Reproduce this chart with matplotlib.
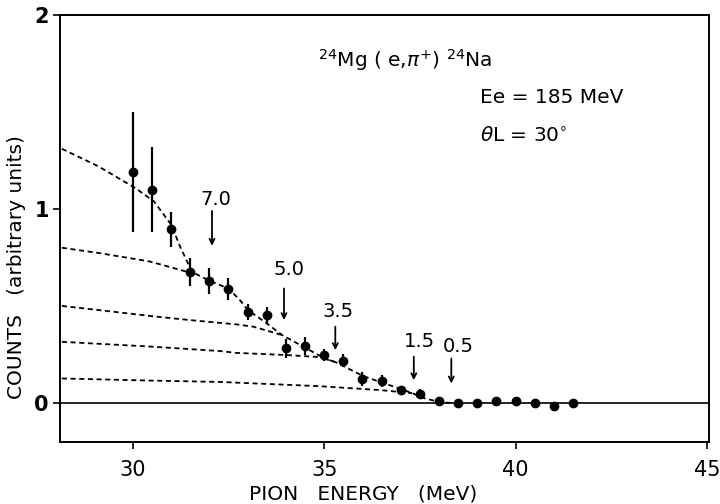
import matplotlib
matplotlib.use("Agg")
import matplotlib.pyplot as plt

# ---- data ----
pion_energy = [30.0, 30.5, 31.0, 31.5, 32.0, 32.5, 33.0, 33.5, 34.0, 34.5, 35.0, 35.5,
               36.0, 36.5, 37.0, 37.5, 38.0, 38.5, 39.0, 39.5, 40.0, 40.5, 41.0, 41.5]
counts = [1.19, 1.10, 0.895, 0.675, 0.628, 0.588, 0.470, 0.453, 0.281, 0.293, 0.246, 0.217,
          0.122, 0.114, 0.069, 0.048, 0.010, 0.002, 0.002, 0.010, 0.009, 0.002, -0.017, -0.003]
count_err = [0.31, 0.22, 0.09, 0.07, 0.065, 0.055, 0.04, 0.042, 0.05, 0.048, 0.03, 0.033,
             0.035, 0.03, 0.02, 0.025, 0.02, 0.012, 0.008, 0.01, 0.01, 0.008, 0.006, 0.025]

# envelope (sum of all levels up to 7.0 MeV)
fit_x = [28.15, 29.1, 30.05, 30.55, 31.0, 31.25, 31.55, 32.0, 32.5, 32.8, 33.0, 33.5, 33.9,
         34.5, 35.05, 35.3, 36.0, 36.5, 37.0, 37.3, 37.6, 38.0, 38.3]
fit_y = [1.31, 1.22, 1.11, 1.04, 0.92, 0.80, 0.675, 0.63, 0.59, 0.53, 0.48, 0.41, 0.35,
         0.285, 0.225, 0.21, 0.14, 0.105, 0.072, 0.05, 0.025, 0.005, 0.0]
# partial sums (end where they join the envelope)
c50_x = [28.15, 29.14, 30.45, 31.4, 31.55]
c50_y = [0.80, 0.772, 0.729, 0.677, 0.675]
c35_x = [28.15, 29.5, 30.6, 31.6, 32.7, 33.15, 33.9]
c35_y = [0.50, 0.47, 0.445, 0.425, 0.405, 0.393, 0.35]
c15_x = [28.15, 30.5, 32.3, 32.7, 34.0, 34.9, 35.3]
c15_y = [0.315, 0.29, 0.267, 0.258, 0.247, 0.236, 0.21]
c05_x = [28.15, 30.5, 32.3, 34.9, 36.47, 37.3]
c05_y = [0.126, 0.115, 0.108, 0.086, 0.066, 0.05]

arrow_labels = ["7.0", "5.0", "3.5", "1.5", "0.5"]
arrow_x = [32.07, 33.95, 35.29, 37.34, 38.32]
arrow_top = [0.99, 0.59, 0.393, 0.238, 0.229]
arrow_bottom = [0.81, 0.427, 0.272, 0.117, 0.100]
label_x = [32.17, 34.07, 35.37, 37.49, 38.49]
label_y = [1.05, 0.686, 0.47, 0.315, 0.289]

x_ticks = [30, 35, 40, 45]
y_ticks = [0, 1, 2]

plt.rcParams['font.family'] = ['DejaVu Sans']

fig = plt.figure(figsize=(7.2, 5.04), dpi=100)
ax = fig.add_axes([60 / 720, 1 - 441.7 / 504, (709 - 60) / 720, (441.7 - 15) / 504])
ax.set_xlim(28.1, 45.05)
ax.set_ylim(-0.2, 2.0)

ax.axhline(0, color='black', lw=1.2)

dash = (0, (2.8, 2.0))
for xs, ys in [(fit_x, fit_y), (c50_x, c50_y), (c35_x, c35_y), (c15_x, c15_y), (c05_x, c05_y)]:
    ax.plot(xs, ys, color='black', lw=1.3, linestyle=dash)

ax.errorbar(pion_energy, counts, yerr=count_err, fmt='o', color='black',
            markersize=6, elinewidth=1.6, capsize=0)

for lab, xa, yt, yb, lx, ly in zip(arrow_labels, arrow_x, arrow_top, arrow_bottom, label_x, label_y):
    ax.annotate('', xy=(xa, yb), xytext=(xa, yt),
                arrowprops=dict(arrowstyle='->', lw=1.3, color='black',
                                mutation_scale=9, shrinkA=0, shrinkB=0))
    ax.text(lx, ly, lab, ha='center', va='center', fontsize=14)

ax.text(34.84, 1.735, r"$^{24}$Mg ( e,$\pi^{+}$) $^{24}$Na", fontsize=14.5, ha='left', va='baseline')
ax.text(39.08, 1.547, "Ee = 185 MeV", fontsize=14.5, ha='left', va='baseline')
ax.text(39.08, 1.349, r"$\theta$L = 30$^{\circ}$", fontsize=14.5, ha='left', va='baseline')

ax.set_xticks(x_ticks)
ax.set_xticklabels([str(t) for t in x_ticks])
ax.set_yticks(y_ticks)
ax.set_yticklabels([str(t) for t in y_ticks], fontweight='bold')
ax.tick_params(axis='x', direction='out', length=5, width=1.2, pad=8, labelsize=15)
ax.tick_params(axis='y', direction='out', length=5, width=1.2, pad=3, labelsize=15)
for s in ax.spines.values():
    s.set_linewidth(1.4)

fig.text(363 / 720, 1 - 494 / 504, "PION   ENERGY   (MeV)", ha='center', va='center', fontsize=14.5)
fig.text(17 / 720, 1 - 267 / 504, "COUNTS   (arbitrary units)", ha='center', va='center',
         rotation=90, fontsize=14.5)

fig.savefig("out.png", dpi=100)
